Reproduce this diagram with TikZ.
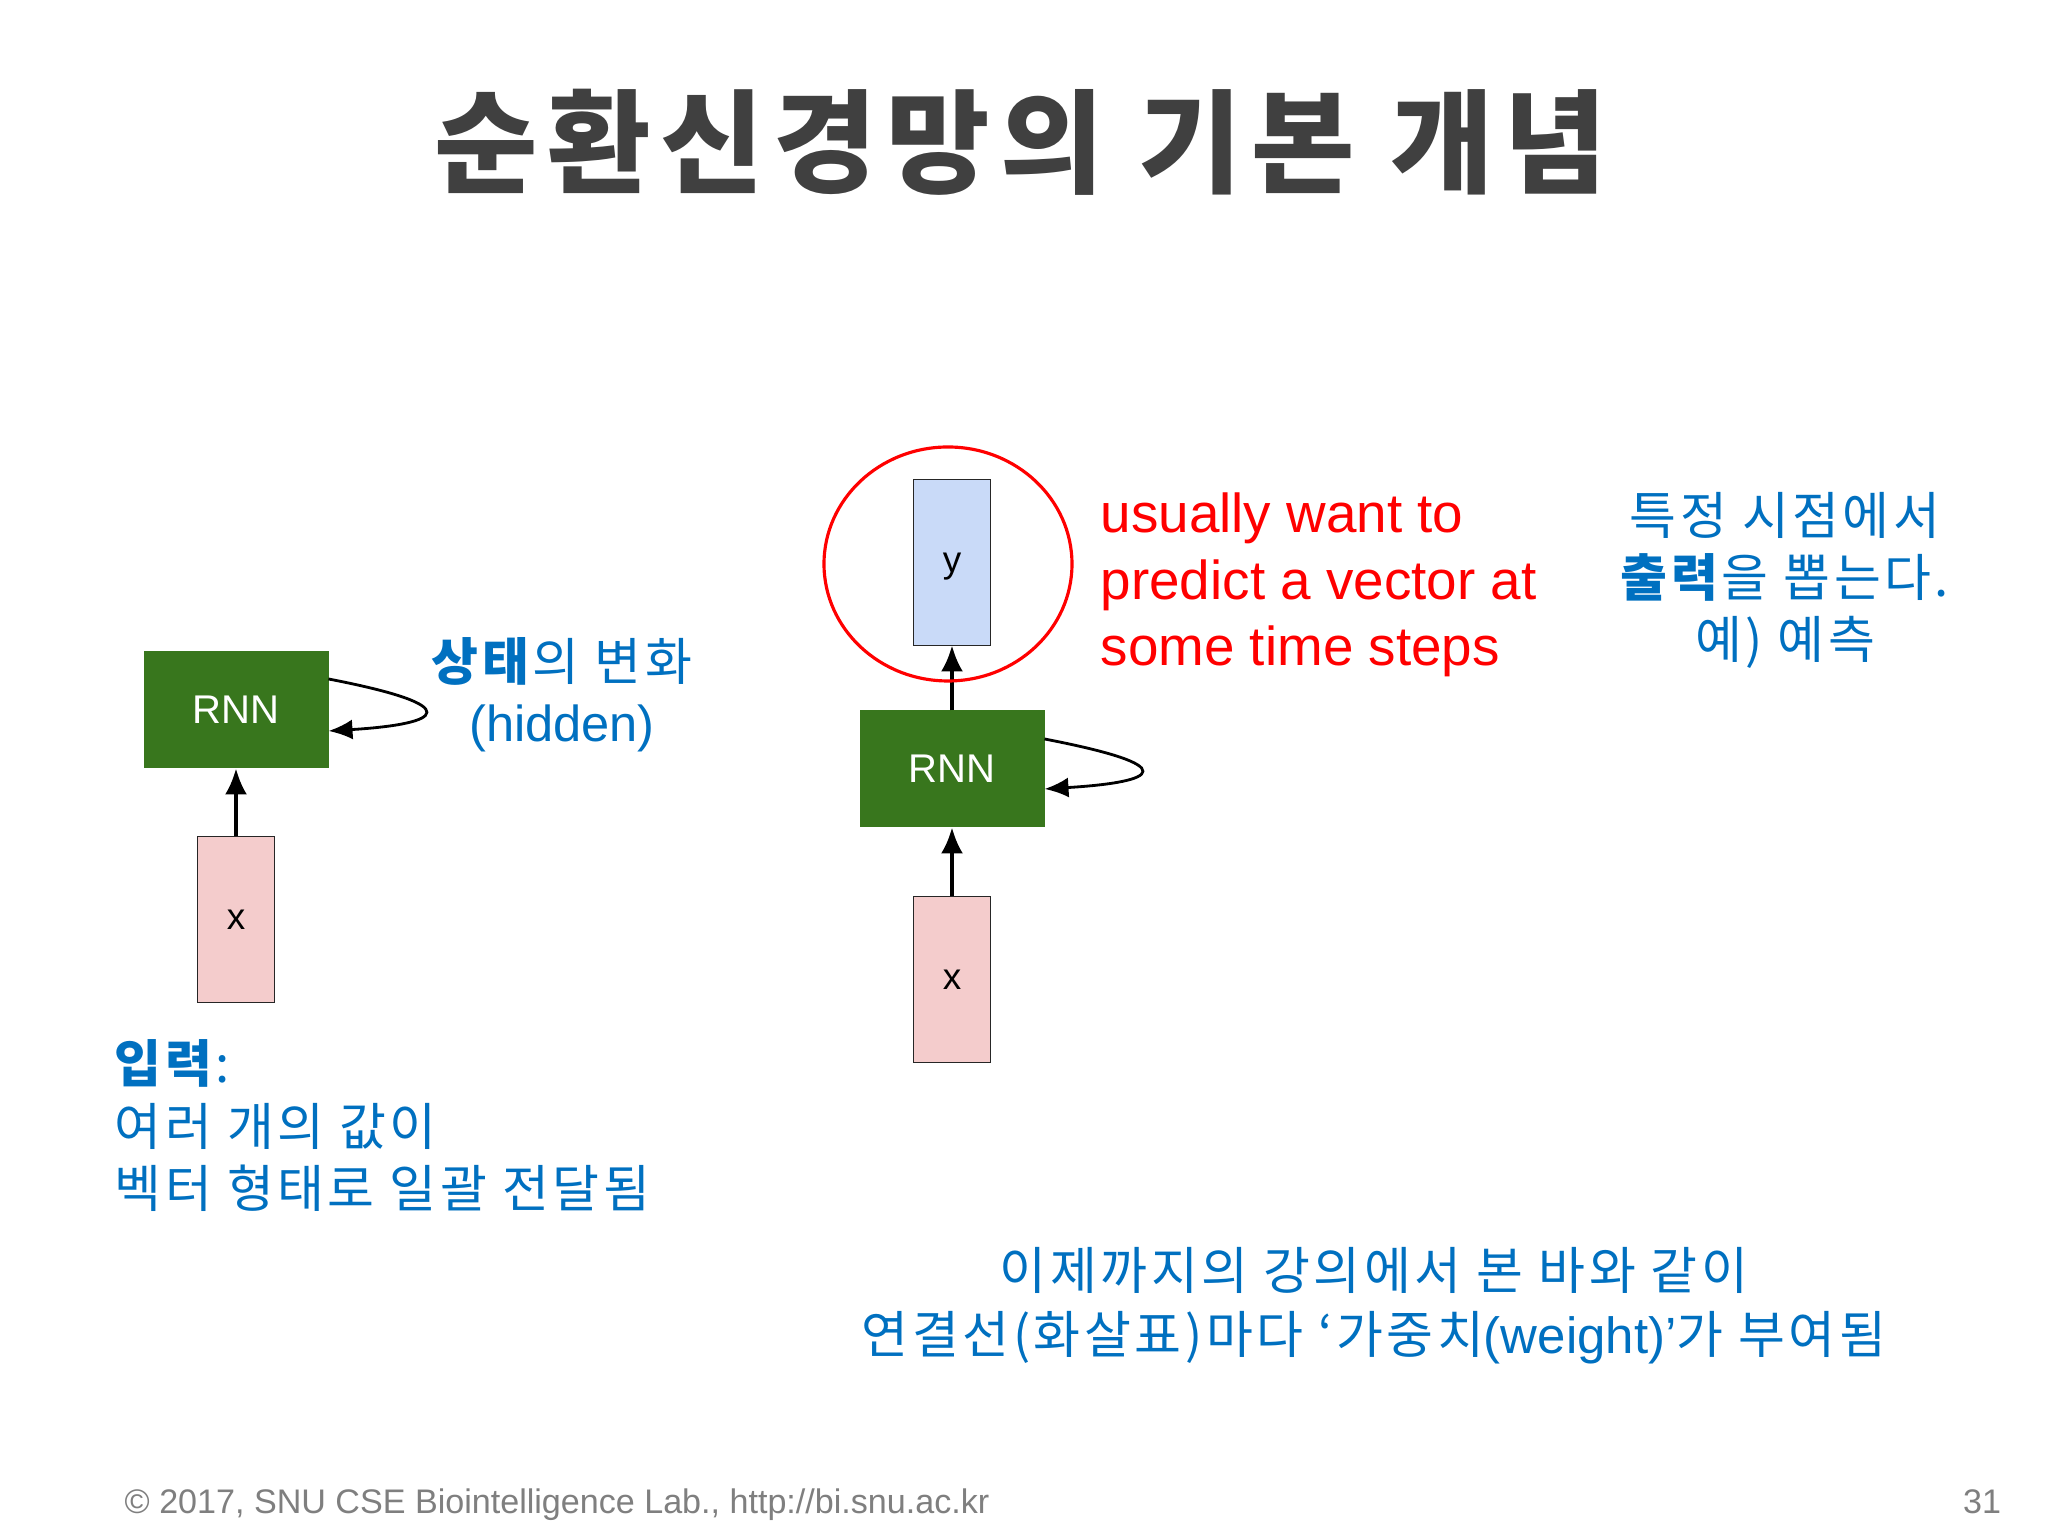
\documentclass[tikz,border=0pt]{standalone}
\usepackage{fontspec}
\setmainfont{Liberation Sans}
\newfontfamily\kfont[LetterSpace=7]{Noto Sans CJK KR}
\newfontfamily\ktitle[LetterSpace=8.5]{Noto Sans CJK KR}
\usepackage{tikz}
\usetikzlibrary{positioning,arrows.meta}

\definecolor{rnngreen}{HTML}{38761D}
\definecolor{xpink}{HTML}{F4CCCC}
\definecolor{yblue}{HTML}{C9DAF8}
\definecolor{noteblue}{HTML}{0070C0}
\definecolor{titlegray}{HTML}{404040}
\definecolor{footgray}{HTML}{7F7F7F}

\begin{document}
\begin{tikzpicture}[
  rnnbox/.style={fill=rnngreen, text=white, minimum width=1.85cm, minimum height=1.17cm,
    inner sep=0, outer sep=0, font=\fontsize{11.4}{13}\selectfont},
  vecbox/.style={draw=black!85, line width=0.5pt, minimum width=0.77cm, minimum height=1.66cm,
    inner sep=0, outer sep=0, text depth=0pt, font=\fontsize{10.5}{12}\selectfont},
  feed/.style={-{Latex[length=2.6mm,width=2.2mm]}, line width=1pt},
  selfarrow/.style={-{Latex[length=2.4mm,width=2mm]}, line width=0.8pt},
  notetext/.style={text=noteblue, font=\kfont\fontsize{14.5}{17}\selectfont, inner sep=0, anchor=base},
  redtext/.style={text=red, font=\fontsize{15.6}{18}\selectfont, inner sep=0, anchor=base west},
  foottext/.style={text=footgray, font=\fontsize{9.7}{11}\selectfont, inner sep=0, anchor=base west}
]
  \useasboundingbox[fill=white] (0,0) rectangle (20.48,15.36);

  % Title
  \node[text=titlegray, font=\ktitle\bfseries\fontsize{32}{36}\selectfont, anchor=base] (title)
    at (10.21,13.51) {순환신경망의 기본 개념};

  % Left: one RNN cell
  \node[rnnbox] (rnnL) at (2.36,8.26) {RNN};
  \node[vecbox, fill=xpink, below=0.68cm of rnnL] (xL) {x};
  \draw[feed] (xL) -- (rnnL);
  \draw[selfarrow] ([yshift=0.31cm]rnnL.east) .. controls +(1.4,-0.27) and +(1.15,0.07) .. ([yshift=-0.21cm]rnnL.east);

  \node[notetext] (stateL) at (5.62,8.55) {\textbf{상태}의 변화};
  \node[notetext, font=\fontsize{14.4}{17}\selectfont] (hiddenL) at (5.62,7.94) {(hidden)};

  \foreach \line [count=\i] in {\textbf{입력}:, 여러 개의 값이, 벡터 형태로 일괄 전달됨}
    \node[notetext, anchor=base west] (input\i) at (1.14,{4.53-0.625*(\i-1)}) {\line};

  % Right: RNN cell with output
  \node[rnnbox] (rnnR) at (9.52,7.67) {RNN};
  \node[vecbox, fill=xpink, below=0.69cm of rnnR] (xR) {x};
  \node[vecbox, fill=yblue, above=0.65cm of rnnR] (yR) {y};
  \draw[feed] (xR) -- (rnnR);
  \draw[feed] (rnnR) -- (yR);
  \draw[selfarrow] ([yshift=0.30cm]rnnR.east) .. controls +(1.4,-0.27) and +(1.15,0.07) .. ([yshift=-0.20cm]rnnR.east);

  % Red ring round the output
  \draw[red, line width=0.9pt] (9.48,9.72) ellipse [x radius=1.24cm, y radius=1.17cm];

  \foreach \line [count=\i] in {usually want to, predict a vector at, some time steps}
    \node[redtext] (predict\i) at (11.00,{10.03-0.665*(\i-1)}) {\line};

  \foreach \line [count=\i] in {특정 시점에서, \textbf{출력}을 뽑는다., 예) 예측}
    \node[notetext] (output\i) at (17.85,{10.01-0.62*(\i-1)}) {\line};

  % Weights
  \node[notetext] (weight1) at (13.74,2.46) {이제까지의 강의에서 본 바와 같이};
  \node[notetext] (weight2) at (13.74,1.82)
    {연결선(화살표)마다 ‘가중치{\fontspec{Liberation Sans}(weight)’}가 부여됨};

  % Footer
  \node[foottext] (copy) at (1.24,0.22) {© 2017, SNU CSE Biointelligence Lab., http://bi.snu.ac.kr};
  \node[foottext, anchor=base] (page) at (19.82,0.22) {31};

\end{tikzpicture}
\end{document}
